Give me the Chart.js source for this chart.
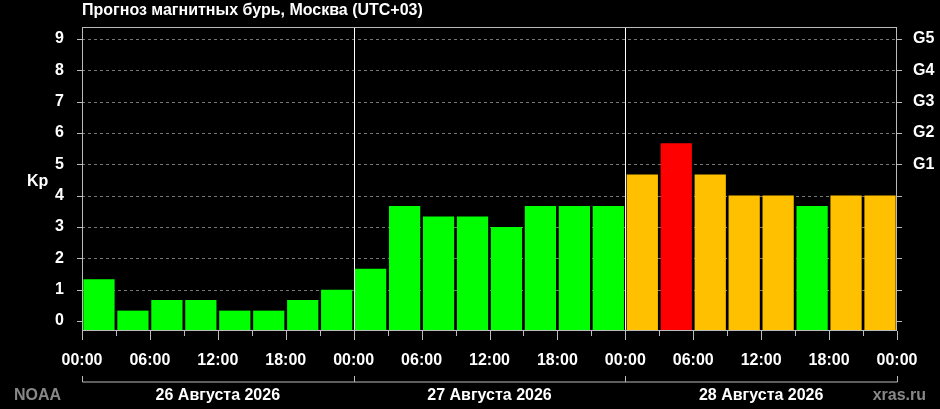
<!DOCTYPE html>
<html><head><meta charset="utf-8">
<script src="https://cdn.jsdelivr.net/npm/chart.js@4"></script>
<style>html,body{margin:0;padding:0;background:#000;}#w{width:940px;height:409px;}</style>
</head><body><div id="w"><canvas id="c"></canvas></div>
<script>
const kpValues = [1.33,0.33,0.67,0.67,0.33,0.33,0.67,1.0,
                  1.67,3.67,3.33,3.33,3.0,3.67,3.67,3.67,
                  4.67,5.67,4.67,4.0,4.0,3.67,4.0,4.0];
const dayLabels = ['26 Августа 2026','27 Августа 2026','28 Августа 2026'];
const gLabels = {5:'G1',6:'G2',7:'G3',8:'G4',9:'G5'};
const titleText = 'Прогноз магнитных бурь, Москва (UTC+03)';
const FONT = 'Liberation Sans, Arial, sans-serif';

const points = kpValues.map((v,i)=>({x:1.5+3*i,y:v}));
const colors = kpValues.map(v=> v>=5 ? '#ff0000' : (v>=4 ? '#ffc000' : '#00ff00'));
const YMIN=-0.32, YMAX=9.38;

const deco = {
  id:'deco',
  beforeDatasetsDraw(chart){
    const {ctx, chartArea:a, scales:{x,y}} = chart;
    ctx.save();
    ctx.strokeStyle='#777'; ctx.lineWidth=1; ctx.setLineDash([3,3]);
    for(let k=1;k<=9;k++){const py=Math.round(y.getPixelForValue(k))+0.5;
      ctx.beginPath();ctx.moveTo(a.left,py);ctx.lineTo(a.right,py);ctx.stroke();}
    ctx.setLineDash([]);
    ctx.restore();
  },
  afterDatasetsDraw(chart){
    const {ctx, chartArea:a, scales:{x,y}} = chart;
    ctx.save();
    ctx.strokeStyle='#fff'; ctx.lineWidth=1;
    [24,48].forEach(h=>{const px=Math.round(x.getPixelForValue(h))+0.5;
      ctx.beginPath();ctx.moveTo(px,a.top);ctx.lineTo(px,a.bottom);ctx.stroke();});
    ctx.strokeStyle='#bbb';
    ctx.strokeRect(a.left+0.5,a.top+0.5,a.right-a.left-1,a.bottom-a.top-1);
    // y ticks
    for(let k=0;k<=9;k++){const py=Math.round(y.getPixelForValue(k))+0.5;
      ctx.beginPath();ctx.moveTo(a.left-5,py);ctx.lineTo(a.left,py);ctx.stroke();
      ctx.beginPath();ctx.moveTo(a.right,py);ctx.lineTo(a.right+5,py);ctx.stroke();}
    // x ticks
    for(let h=0;h<=72;h+=3){const px=Math.round(x.getPixelForValue(h))+0.5;
      const len = h%6===0?9:5;
      ctx.beginPath();ctx.moveTo(px,a.bottom);ctx.lineTo(px,a.bottom+len);ctx.stroke();}
    // day brackets
    const by=382;
    ctx.beginPath();
    const x0=Math.round(x.getPixelForValue(0))+0.5, x72=Math.round(x.getPixelForValue(72))+0.5;
    ctx.moveTo(x0,by);ctx.lineTo(x72,by);ctx.stroke();
    [0,24,48,72].forEach(h=>{const px=Math.round(x.getPixelForValue(h))+0.5;
      ctx.beginPath();ctx.moveTo(px,by-6);ctx.lineTo(px,by);ctx.stroke();});
    ctx.fillStyle='#fff'; ctx.font='bold 16px '+FONT; ctx.textAlign='center'; ctx.textBaseline='middle';
    dayLabels.forEach((d,i)=>ctx.fillText(d,x.getPixelForValue(12+24*i),396));
    ctx.fillStyle='#888'; ctx.textAlign='left';
    ctx.fillText('NOAA',14,396);
    ctx.textAlign='right'; ctx.fillText('xras.ru',926,396);
    ctx.fillStyle='#fff'; ctx.textAlign='left'; ctx.font='bold 16px '+FONT;
    ctx.fillText(titleText,82,11);
    ctx.fillText('Kp',27,182);
    ctx.restore();
  }
};

new Chart(document.getElementById('c'),{
  type:'bar',
  data:{datasets:[{data:points,backgroundColor:colors,base:YMIN,barPercentage:0.92,categoryPercentage:1,borderWidth:0}]},
  options:{
    responsive:true, maintainAspectRatio:false, animation:false,
    layout:{padding:0},
    plugins:{legend:{display:false},tooltip:{enabled:false}},
    scales:{
      x:{type:'linear',min:0,max:72,offset:false,
        grid:{display:false},border:{display:false},
        ticks:{stepSize:6,autoSkip:false,maxRotation:0,color:'#fff',font:{family:FONT,size:16,weight:'bold'},padding:12,
          callback:v=>String(v%24).padStart(2,'0')+':00'},
        afterFit(s){s.height=78;}},
      y:{min:YMIN,max:YMAX,grid:{display:false},border:{display:false},
        afterBuildTicks(s){s.ticks=[0,1,2,3,4,5,6,7,8,9].map(v=>({value:v}));},
        ticks:{color:'#fff',font:{family:FONT,size:16,weight:'bold'},padding:10},
        afterFit(s){s.width=82;}},
      y2:{position:'right',min:YMIN,max:YMAX,grid:{display:false},border:{display:false},
        afterBuildTicks(s){s.ticks=[0,1,2,3,4,5,6,7,8,9].map(v=>({value:v}));},
        ticks:{color:'#fff',font:{family:FONT,size:16,weight:'bold'},padding:8,callback:v=>gLabels[v]||''},
        afterFit(s){s.width=43;}}
    }
  },
  plugins:[deco,{id:'top',beforeLayout(c){c.options.layout.padding={top:27};}}]
});
</script></body></html>
